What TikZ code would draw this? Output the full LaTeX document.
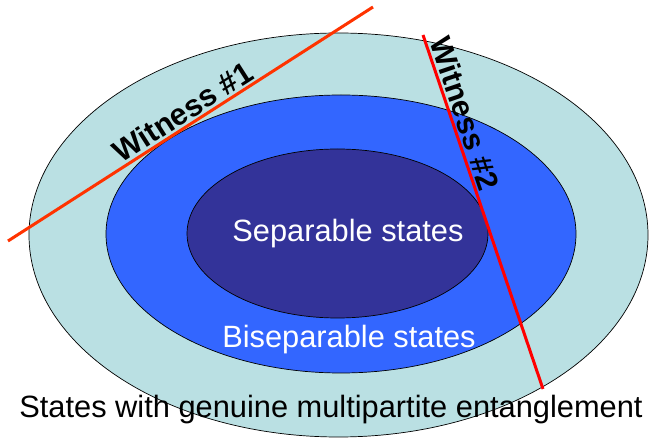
\documentclass[tikz,border=0pt]{standalone}
\usepackage{fontspec}
\setmainfont{Liberation Sans}
\definecolor{outerc}{HTML}{BAE0E3}
\definecolor{midc}{HTML}{3366FF}
\definecolor{innerc}{HTML}{333399}
\definecolor{wone}{HTML}{FF3300}
\definecolor{wtwo}{HTML}{FF0000}
\tikzset{
  region/.style={draw=black, line width=0.7pt},
  witnessline/.style={line width=3pt},
  witnesslabel/.style={font=\fontsize{30.5}{36}\selectfont\bfseries, text=black, sloped, above, inner sep=2pt},
  statelabel/.style={font=\fontsize{30.8}{36}\selectfont, anchor=base, inner sep=0pt},
}
\begin{document}
\begin{tikzpicture}[x=1pt,y=-1pt]
\useasboundingbox (0,0) rectangle (649,438);
\fill[white] (0,0) rectangle (649,438);
\draw[region, fill=outerc] (338.5,235) ellipse [x radius=309.5, y radius=202];
\draw[region, fill=midc] (341,234) ellipse [x radius=235, y radius=139];
\draw[region, fill=innerc] (337.5,233.5) ellipse [x radius=150.5, y radius=84.5];
\node[statelabel, text=white] (sep) at (348,242) {Separable states};
\node[statelabel, text=white] (bisep) at (349,348) {Biseparable states};
\node[statelabel, text=black] (gme) at (331,418) {States with genuine multipartite entanglement};
\coordinate (w1a) at (8,241);
\coordinate (w1b) at (373,7);
\coordinate (w2a) at (423,35);
\coordinate (w2b) at (543,389);
\draw[witnessline, wone] (w1a) -- node[witnesslabel, pos=0.5] (w1) {Witness \#1} (w1b);
\draw[witnessline, wtwo] (w2a) -- node[witnesslabel, pos=0.235] (w2) {Witness \#2} (w2b);
\end{tikzpicture}
\end{document}
